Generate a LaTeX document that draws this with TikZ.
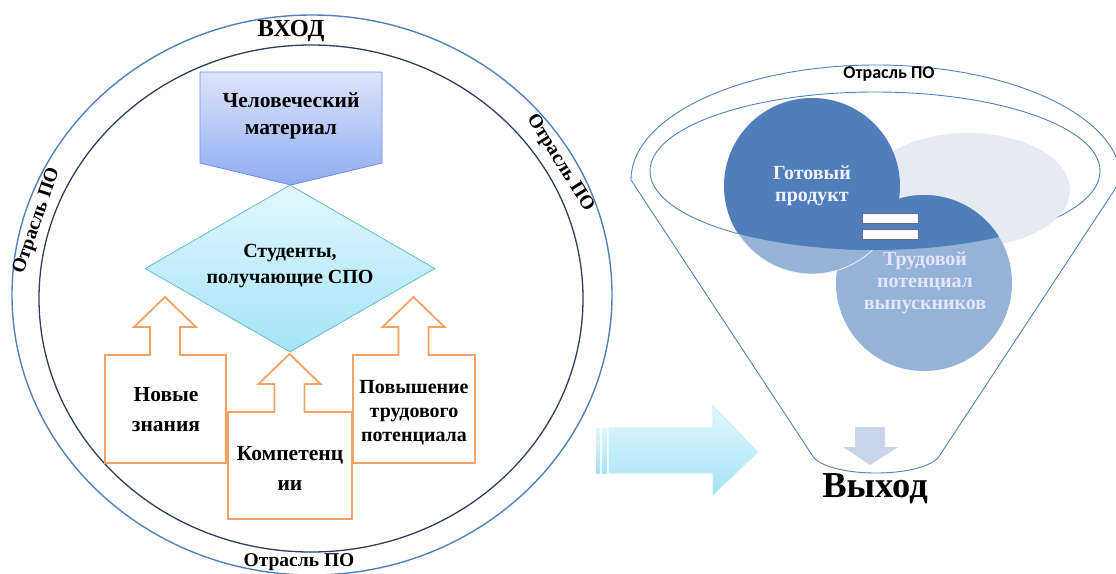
\documentclass[tikz,border=0pt]{standalone}
\usepackage{fontspec}
\setmainfont{Liberation Serif}
\newfontfamily\calib{Carlito}
\usetikzlibrary{shapes.geometric}

\definecolor{ringblue}{RGB}{79,129,189}
\definecolor{ringdark}{RGB}{45,62,96}
\definecolor{orangeline}{RGB}{247,162,98}
\definecolor{lavtop}{RGB}{222,228,251}
\definecolor{lavbot}{RGB}{143,172,242}
\definecolor{cyantop}{RGB}{226,247,253}
\definecolor{cyanbot}{RGB}{165,228,247}
\definecolor{darkfill}{RGB}{79,126,187}
\definecolor{lightfill}{RGB}{149,179,215}
\definecolor{palefill}{RGB}{229,234,243}
\definecolor{downfill}{RGB}{201,214,233}

\newcommand{\upcallout}[5]{
    \draw[calloutline] (#1,#4) -- (#1,#3) -- ({#5-15},#3) -- ({#5-15},{#3-28}) -- ({#5-31},{#3-28})
        -- (#5,{#3-58}) -- ({#5+31},{#3-28}) -- ({#5+15},{#3-28}) -- ({#5+15},#3) -- (#2,#3) -- (#2,#4) -- cycle;
}

\begin{document}
\begin{tikzpicture}[x=1pt, y=-1pt]
        \tikzstyle{ringtext}=[font=\bfseries\fontsize{19.5}{19.5}\selectfont, inner sep=0pt]
        \tikzstyle{boxtext}=[font=\bfseries\fontsize{21.5}{30}\selectfont, align=center, inner sep=0pt]
        \tikzstyle{calloutline}=[draw=orangeline, line width=1.8pt, line join=miter]
        \tikzstyle{circtext}=[font=\bfseries\fontsize{20}{22}\selectfont, align=center, inner sep=0pt]
        \tikzstyle{funnelline}=[draw=ringblue, line width=0.9pt]

        \useasboundingbox (0,0) rectangle (1116,573);

        % left ring
        \draw[ringblue, line width=1.4pt] (312,295) ellipse [x radius=300, y radius=280];
        \draw[ringdark, line width=1.3pt] (311,298.5) ellipse [x radius=272, y radius=253.5];

        \node[ringtext, font=\bfseries\fontsize{24.5}{24.5}\selectfont] (R_1) at (291,31) {ВХОД};
        \node[ringtext, rotate=71] (R_2) at (37,221) {Отрасль ПО};
        \node[ringtext, rotate=-58] (R_3) at (560,163) {Отрасль ПО};
        \node[ringtext] (R_4) at (299,562) {Отрасль ПО};

        % human material
        \draw[draw=lavbot!80!blue, top color=lavtop, bottom color=lavbot, line width=0.8pt]
            (200,72) -- (382,72) -- (382,163) -- (291,185) -- (200,163) -- cycle;
        \node[boxtext, font=\bfseries\fontsize{21.5}{27}\selectfont] (M_1) at (291,116) {Человеческий\\материал};

        \node[diamond, draw=cyanbot!60!teal, line width=0.8pt, top color=cyantop, bottom color=cyanbot,
              minimum width=290pt, minimum height=167pt, inner sep=0pt] (S_1) at (290,268.5) {};
        \node[boxtext, font=\bfseries\fontsize{20}{26}\selectfont] at (290,266) {Студенты,\\получающие СПО};

        % up callouts
        \upcallout{105}{226}{355}{463}{165}
        \upcallout{228}{352}{412}{519}{289.5}
        \upcallout{353}{475}{355}{463}{413.5}
        \node[boxtext] (A_1) at (166,410) {Новые\\знания};
        \node[boxtext] (A_2) at (290,468) {Компетенц\\ии};
        \node[boxtext, font=\bfseries\fontsize{20}{24}\selectfont] (A_3) at (414,413) {Повышение\\трудового\\потенциала};

        % big arrow
        \fill[top color=cyantop, bottom color=cyanbot] (596,428) rectangle (600,473);
        \fill[top color=cyantop, bottom color=cyanbot] (602,428) rectangle (607,473);
        \draw[draw=cyanbot!70, line width=0.6pt, top color=cyantop, bottom color=cyanbot]
            (609,428) -- (713,428) -- (713,406) -- (758,452) -- (713,495) -- (713,473) -- (609,473) -- cycle;

        % funnel
        \draw[funnelline] (631,180) arc [start angle=180, end angle=360, x radius=245, y radius=115]
            -- (938,458) .. controls (918,478) and (834,478) .. (814,458) -- cycle;
        \draw[funnelline] (875,171) ellipse [x radius=225, y radius=79];
        \fill[palefill] (968,190) ellipse [x radius=102, y radius=57];

        \fill[lightfill] (924,283) circle [radius=88];
        \draw[fill=lightfill, draw=white!85!lightfill, line width=0.8pt] (812,186) circle [radius=88];
        \begin{scope}
            \clip (875,171) ellipse [x radius=225, y radius=79];
            \fill[darkfill] (924,283) circle [radius=88];
            \fill[darkfill] (812,186) circle [radius=88];
        \end{scope}

        \draw[fill=white, draw=gray!80!blue, line width=0.6pt] (862,213) rectangle (918,223);
        \draw[fill=white, draw=gray!80!blue, line width=0.6pt] (862,229) rectangle (918,239);

        \node[circtext, text=white!95!blue] (F_1) at (812,186) {Готовый\\продукт};
        \node[circtext, text=white!90!blue] (F_2) at (925,283) {Трудовой\\потенциал\\выпускников};

        \node[font=\calib\bfseries\fontsize{18}{18}\selectfont, inner sep=0pt] (F_0) at (889,74) {Отрасль ПО};

        \fill[downfill] (855,427) -- (885,427) -- (885,447) -- (898,447) -- (870,465) -- (843,447) -- (855,447) -- cycle;
        \node[font=\bfseries\fontsize{36.5}{36.5}\selectfont, inner sep=0pt] (O_1) at (875,489) {Выход};
\end{tikzpicture}
\end{document}
